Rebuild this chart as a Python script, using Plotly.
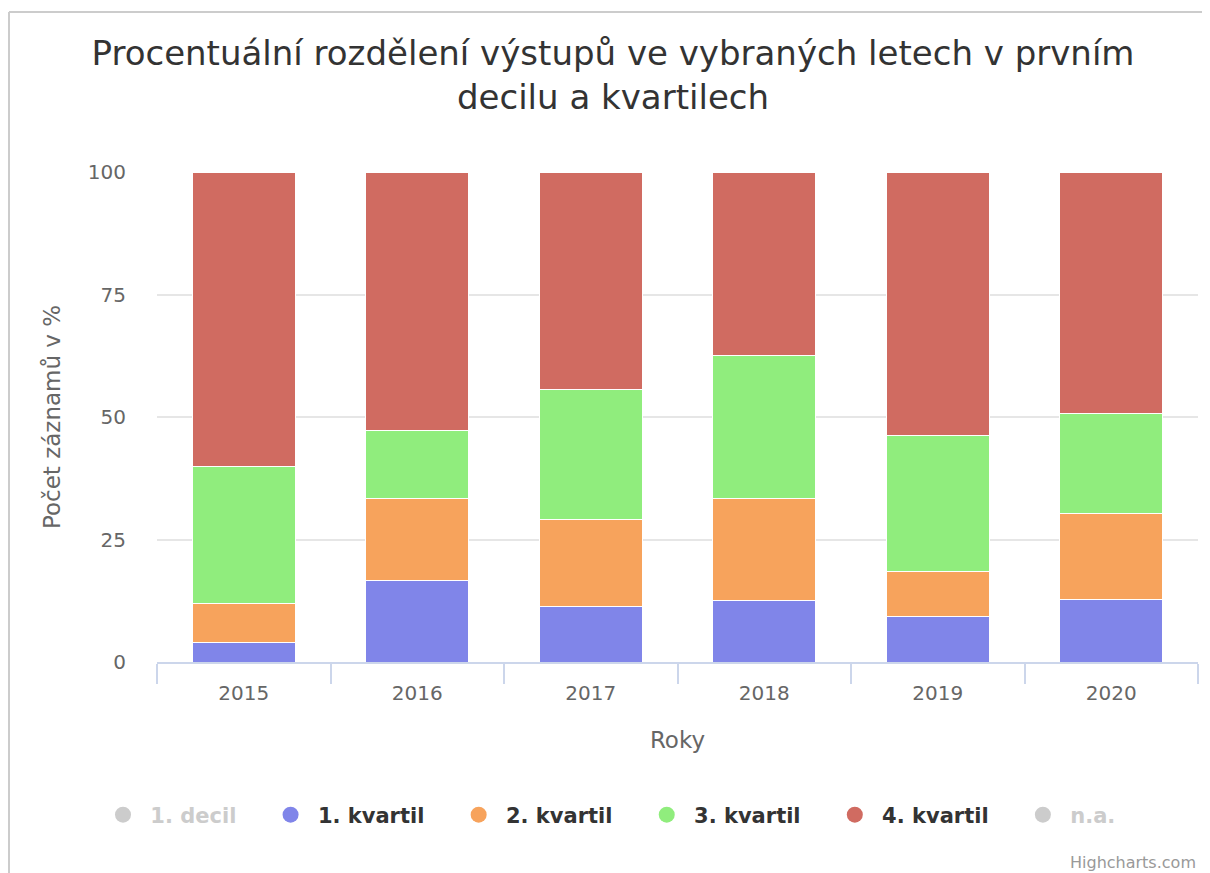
import plotly.graph_objects as go

# ---- data ----
years = ["2015", "2016", "2017", "2018", "2019", "2020"]
kvartil_1 = [4.0, 16.7, 11.4, 12.5, 9.3, 12.7]
kvartil_2 = [8.0, 16.6, 17.7, 20.8, 9.2, 17.7]
kvartil_3 = [28.0, 13.9, 26.6, 29.2, 27.8, 20.4]
kvartil_4 = [60.0, 52.8, 44.3, 37.5, 53.7, 49.2]
series_names = ["1. decil", "1. kvartil", "2. kvartil", "3. kvartil", "4. kvartil", "n.a."]
hidden_series = ["1. decil", "n.a."]
y_ticks = [0, 25, 50, 75, 100]

title_text = "Procentuální rozdělení výstupů ve vybraných letech v prvním<br>decilu a kvartilech"
x_title = "Roky"
y_title = "Počet záznamů v %"

colors = {
    "1. decil": "#cccccc",
    "1. kvartil": "#8085e9",
    "2. kvartil": "#f7a35c",
    "3. kvartil": "#90ed7d",
    "4. kvartil": "#d06b61",
    "n.a.": "#cccccc",
}
values = {
    "1. kvartil": kvartil_1,
    "2. kvartil": kvartil_2,
    "3. kvartil": kvartil_3,
    "4. kvartil": kvartil_4,
}

FONT = "DejaVu Sans"
# page body has an 8px margin, so the figure is offset by 8px
W, H = 1202, 865
L, R, T, B = 149, 12, 164, 211

fig = go.Figure()

# bars (no own legend entries)
for name, vals in values.items():
    fig.add_trace(go.Bar(
        x=years, y=vals, name=name, legendgroup=name, showlegend=False,
        marker=dict(color=colors[name], line=dict(color="#ffffff", width=1)),
    ))

# legend entries with round symbols
NB = "\u00a0"
for i, name in enumerate(series_names):
    hidden = name in hidden_series
    pad = NB * 4 if i < len(series_names) - 1 else ""
    text = NB + name + pad
    label = f"<span style='color:#cccccc'>{text}</span>" if hidden else text
    fig.add_trace(go.Scatter(
        x=[None], y=[None], mode="markers", name=label, legendgroup=name,
        marker=dict(color=colors[name], size=16, symbol="circle"),
        hoverinfo="skip",
    ))

pw = W - L - R
ph = H - T - B
def px_x(x):
    return (x - L) / pw
def px_y(y):
    return (H - B - y) / ph

# chart border (top and left)
fig.add_shape(type="line", xref="paper", yref="paper",
              x0=px_x(1), x1=px_x(1202), y0=px_y(4), y1=px_y(4),
              line=dict(color="#cccccc", width=2), layer="below")
fig.add_shape(type="line", xref="paper", yref="paper",
              x0=px_x(1), x1=px_x(1), y0=px_y(4), y1=px_y(865),
              line=dict(color="#cccccc", width=2), layer="below")

fig.add_annotation(text="Highcharts.com", xref="paper", yref="paper",
                   x=px_x(1190), y=px_y(854), xanchor="right", yanchor="middle",
                   showarrow=False, font=dict(family=FONT, size=16, color="#999999"))

fig.update_layout(
    width=W, height=H,
    margin=dict(l=L, r=R, t=T, b=B),
    paper_bgcolor="#ffffff", plot_bgcolor="#ffffff",
    barmode="stack", bargap=0.406,
    title=dict(text=title_text, x=605 / W, xref="container", xanchor="center",
               y=1 - 57 / H, yref="container", yanchor="top",
               font=dict(family=FONT, size=34, color="#333333")),
    font=dict(family=FONT, color="#666666"),
    legend=dict(orientation="h", xref="container", yref="container",
                x=95 / W, xanchor="left", y=1 - 807 / H, yanchor="middle",
                font=dict(family=FONT, size=21, color="#333333", weight="bold"),
                itemclick=False, itemdoubleclick=False),
    xaxis=dict(
        type="category", tickson="boundaries", ticks="outside", ticklen=20,
        tickcolor="#ccd6eb", tickwidth=2, showline=True, linecolor="#ccd6eb", linewidth=2,
        showgrid=False, ticklabelstandoff=12,
        tickfont=dict(family=FONT, size=20, color="#666666"),
        title=dict(text=x_title, standoff=28, font=dict(family=FONT, size=23, color="#666666")),
    ),
    yaxis=dict(
        range=[0, 100], tickvals=y_ticks, ticks="", ticklabelstandoff=30,
        showgrid=True, gridcolor="#e6e6e6", gridwidth=2, zeroline=False,
        showline=False, tickfont=dict(family=FONT, size=20, color="#666666"),
        title=dict(text=y_title, standoff=20, font=dict(family=FONT, size=23, color="#666666")),
    ),
)

fig.write_html("out.html")
